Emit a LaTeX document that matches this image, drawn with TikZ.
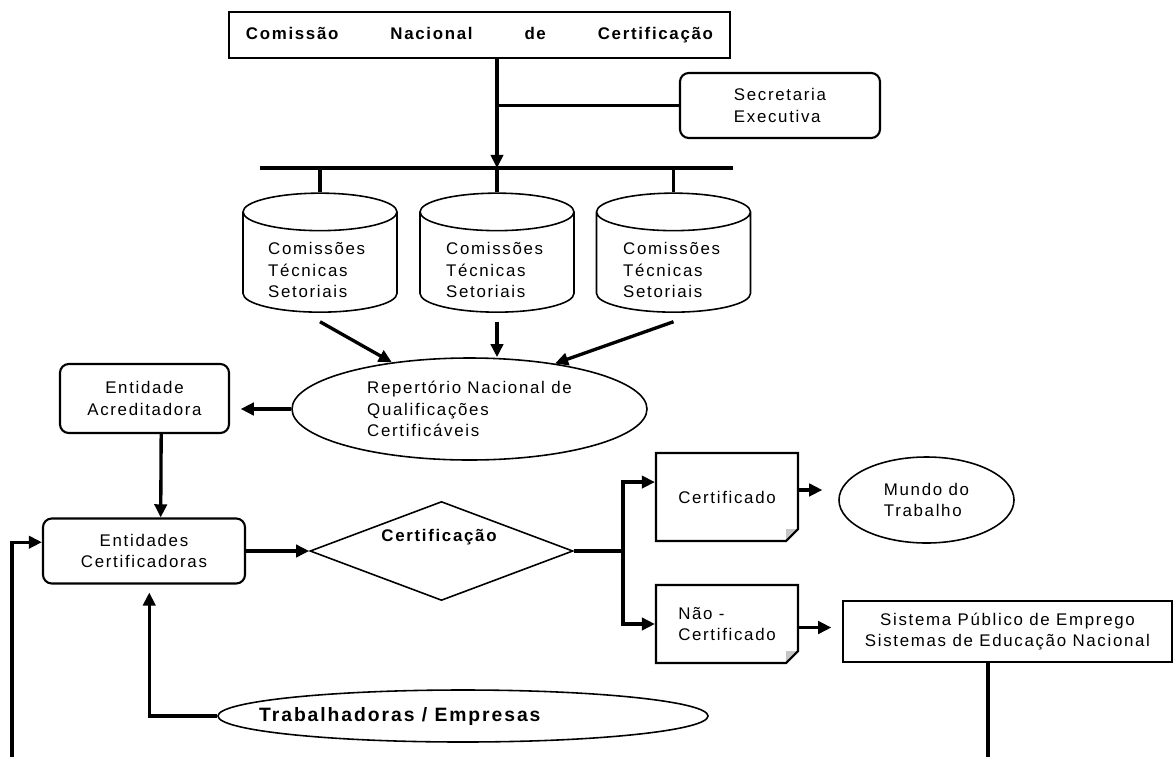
\documentclass[tikz,border=0pt]{standalone}
\usepackage{fontspec}
\setmainfont{Liberation Sans}[LetterSpace=10]
\usetikzlibrary{arrows.meta,shapes.geometric,shapes.misc}

\begin{document}
\begin{tikzpicture}[x=0.2mm,y=-0.2mm,
        >={Triangle[length=7.5pt,width=7pt]},
        every node/.style={font=\fontsize{9.6}{12.4}\selectfont},
        bold/.style={font=\fontsize{9.6}{12.4}\selectfont\bfseries},
        line/.style={line width=1.9pt},
        box/.style={shape=rectangle,draw=black,line width=1.2pt},
        rbox/.style={box,rounded corners=5pt},
        oval/.style={shape=ellipse,draw=black,line width=0.9pt,inner sep=0pt},
        drum/.style={shape=cylinder,shape border rotate=90,aspect=3.2,draw=black,line width=0.9pt,
                     minimum width=30.8mm,minimum height=23.8mm},
        doc/.style={shape=chamfered rectangle,chamfered rectangle corners=south east,
                    chamfered rectangle xsep=3.4pt,chamfered rectangle ysep=3.4pt,
                    draw=black,line width=1.2pt,
                    path picture={\fill[gray!45] ([shift={(-12,0)}]path picture bounding box.south east)
                        -- ([shift={(0,-12)}]path picture bounding box.south east)
                        -- ([shift={(-12,-12)}]path picture bounding box.south east) -- cycle;}}]
        \useasboundingbox (0,0) rectangle (1176,757);

        \node[box,minimum width=100.2mm,minimum height=9.2mm,bold] (1) at (479.5,35) {\makebox[93.4mm][s]{Comissão Nacional de Certificação}};
        \node[rbox,minimum width=40mm,minimum height=13mm,align=left] (2) at (780,105.5) {Secretaria\\Executiva};
        \node[drum] (3) at (320,266) {};
        \node[drum] (4) at (497,266) {};
        \node[drum] (5) at (673.5,266) {};
        \node[align=left,anchor=west] (t3) at (262,270) {Comissões\\Técnicas\\Setoriais};
        \node[align=left,anchor=west] (t4) at (440,270) {Comissões\\Técnicas\\Setoriais};
        \node[align=left,anchor=west] (t5) at (617,270) {Comissões\\Técnicas\\Setoriais};
        \node[oval,minimum width=71mm,minimum height=20.4mm,align=left] (6) at (469.5,409) {Repertório Nacional de\\Qualificações\\Certificáveis};
        \node[rbox,minimum width=33.8mm,minimum height=13.8mm,align=center] (7) at (144.5,398.5) {Entidade\\Acreditadora};
        \node[rbox,minimum width=40.4mm,minimum height=13mm,align=center] (8) at (144,551) {Entidades\\Certificadoras};
        \node[shape=diamond,draw=black,line width=0.9pt,minimum width=52.6mm,minimum height=19.8mm,inner sep=0pt] (9) at (441.5,551) {};
        \node[bold] (t9) at (439,537) {Certificação};
        \node[doc,minimum width=28.4mm,minimum height=17.6mm] (10) at (727,497) {Certificado};
        \node[doc,minimum width=28.4mm,minimum height=15.6mm,align=left] (11) at (727,624) {Não -\\Certificado};
        \node[oval,minimum width=35mm,minimum height=17.2mm,align=left] (12) at (926.5,500) {Mundo do\\Trabalho};
        \node[box,minimum width=65.8mm,minimum height=12.2mm,align=center] (13) at (1007.5,631.5) {Sistema Público de Emprego\\Sistemas de Educação Nacional};
        \node[oval,minimum width=98mm,minimum height=10.4mm] (14) at (463,716) {};
        \node[font=\fontsize{11}{13}\selectfont\bfseries,anchor=west] (t14) at (253,716) {Trabalhadoras / Empresas};

        \coordinate (b0) at (260,168);
        \coordinate (b1) at (733,168);
        \coordinate (k) at (623,551);
        \coordinate (c0) at (12,757);
        \coordinate (c1) at (988,757);

        \draw[line] (b0) -- (b1);
        \draw[line,->] (1.south -| 4.north) -- (b0 -| 4.north);
        \draw[line] (2.west) -- (2.west -| 4.north);
        \draw[line] (b0 -| 3.north) -- (3.north);
        \draw[line] (b0 -| 4.north) -- (4.north);
        \draw[line] (b0 -| 5.north) -- (5.north);
        \draw[line,->] ([yshift=-5pt]3.south) -- (6.149);
        \draw[line,->] ([yshift=-5pt]4.south) -- (4.south |- 6.north);
        \draw[line,->] ([yshift=-5pt]5.south) -- (6.28);
        \draw[line,->,shorten >=6pt] (6.west) -- (6.west -| 7.east);
        \draw[line,->] ([xshift=9.5pt]7.south) -- ([xshift=9.5pt]8.north);
        \draw[line,->] (8.east) -- (9.west);
        \draw[line] (9.east) -- (k);
        \draw[line,->] (k) |- ([yshift=8.5pt]10.west);
        \draw[line,->] (k) |- (11.west);
        \draw[line,->,shorten >=9pt] ([yshift=4pt]10.east) -- ([yshift=4pt]10.east -| 12.west);
        \draw[line,->,shorten >=6pt] ([yshift=-2pt]11.east) -- ([yshift=-2pt]11.east -| 13.west);
        \draw[line] (13.south -| c1) -- (c1);
        \draw[line,->,shorten >=4.5pt] (14.west) -| ([xshift=3pt]8.south);
        \draw[line,->] (c0) |- ([yshift=5pt]8.west);

\end{tikzpicture}
\end{document}
